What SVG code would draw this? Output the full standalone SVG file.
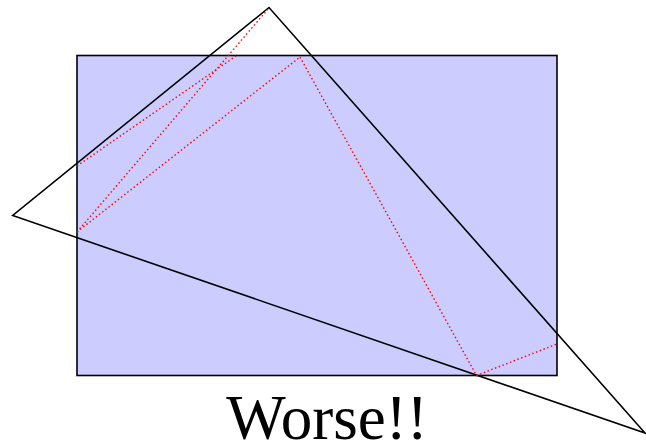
<svg xmlns="http://www.w3.org/2000/svg" width="646" height="446" viewBox="0 0 646 446">
<style>
.rect{fill:#ccccff;stroke:#000;stroke-width:1.6}
.tri{fill:none;stroke:#000;stroke-width:1.6;stroke-linejoin:miter}
.red{fill:none;stroke:#ff0000;stroke-width:1.4;stroke-dasharray:1.5,2.5}
.lbl{font-family:"Liberation Serif",serif;font-size:63px;fill:#000}
</style>
<rect width="646" height="446" fill="#fff"/>
<g id="rectangle"><rect class="rect" x="77" y="55.5" width="480" height="320"/></g>
<g id="triangle"><polygon class="tri" points="269,7.5 12.7,215.5 645,433"/></g>
<g id="connectors">
<line class="red" x1="77" y1="166" x2="236" y2="56"/>
<line class="red" x1="77" y1="232" x2="269" y2="8"/>
<line class="red" x1="77" y1="232" x2="300" y2="57"/>
<polyline class="red" points="300,57 476.5,375.5 557,344"/>
</g>
<g id="label"><text class="lbl" x="327" y="439" text-anchor="middle">Worse!!</text></g>
</svg>
